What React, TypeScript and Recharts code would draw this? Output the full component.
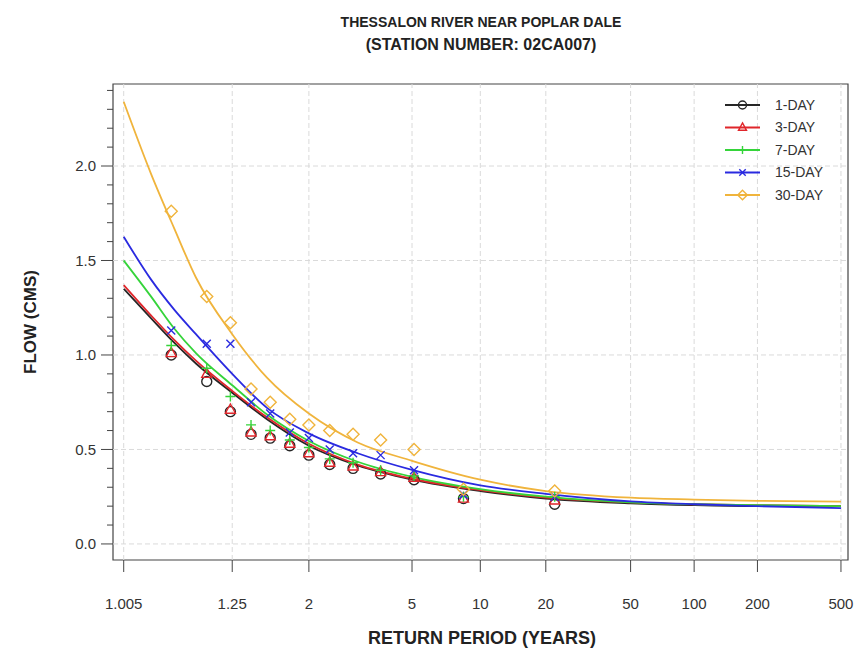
import { ComposedChart, Line, Scatter, XAxis, YAxis, ReferenceLine, ReferenceArea } from 'recharts';

const FONT = '"Liberation Sans", Arial, Helvetica, sans-serif';

// x axis: return period ticks (plotted on a Gumbel reduced-variate scale)
const xTickT = [1.005, 1.25, 2, 5, 10, 20, 50, 100, 200, 500];
const xTickLabels = ['1.005', '1.25', '2', '5', '10', '20', '50', '100', '200', '500'];

// y axis: minor ticks every 0.1, labels on the majors
const yTicks = [0, 0.1, 0.2, 0.3, 0.4, 0.5, 0.6, 0.7, 0.8, 0.9, 1, 1.1, 1.2, 1.3, 1.4, 1.5, 1.6, 1.7, 1.8, 1.9, 2, 2.1, 2.2, 2.3, 2.4];
const yMajor = [0, 0.5, 1, 1.5, 2];

// fitted frequency curves, read at these return periods
const curveT = [1.005, 1.02, 1.05, 1.1, 1.25, 1.5, 2, 3, 5, 10, 20, 50, 100, 200, 500];
const curve1Day = [1.35, 1.195, 1.065, 0.955, 0.8, 0.66, 0.52, 0.415, 0.34, 0.28, 0.24, 0.215, 0.205, 0.2, 0.2];
const curve3Day = [1.37, 1.21, 1.08, 0.97, 0.81, 0.67, 0.53, 0.42, 0.345, 0.285, 0.245, 0.22, 0.21, 0.205, 0.2];
const curve7Day = [1.5, 1.31, 1.14, 1.01, 0.84, 0.685, 0.545, 0.435, 0.355, 0.29, 0.25, 0.22, 0.21, 0.205, 0.2];
const curve15Day = [1.626, 1.4, 1.24, 1.11, 0.9, 0.72, 0.585, 0.48, 0.392, 0.31, 0.265, 0.225, 0.21, 0.2, 0.19];
const curve30Day = [2.34, 1.96, 1.67, 1.41, 1.11, 0.88, 0.69, 0.537, 0.44, 0.34, 0.28, 0.245, 0.235, 0.228, 0.224];

// observed annual minima at their plotting positions
const pointT = [1.045, 1.135, 1.24, 1.37, 1.53, 1.74, 2.0, 2.36, 2.88, 3.7, 5.1, 8.4, 22];
const obs1Day = [1.0, 0.86, 0.7, 0.58, 0.56, 0.52, 0.47, 0.42, 0.4, 0.37, 0.34, 0.24, 0.21];
const obs3Day = [1.01, 0.9, 0.71, 0.59, 0.57, 0.53, 0.48, 0.43, 0.41, 0.38, 0.35, 0.24, 0.23];
const obs7Day = [1.05, 0.93, 0.78, 0.63, 0.6, 0.55, 0.51, 0.45, 0.43, 0.39, 0.36, 0.25, 0.25];
const obs15Day = [1.13, 1.06, 1.06, 0.75, 0.69, 0.59, 0.56, 0.5, 0.48, 0.47, 0.39, 0.26, 0.25];
const obs30Day = [1.76, 1.31, 1.17, 0.82, 0.75, 0.66, 0.63, 0.6, 0.58, 0.55, 0.5, 0.29, 0.28];

// Gumbel reduced variate of the return period (axis transform)
const gumbel = (T: number) => -Math.log(-Math.log(1 - 1 / T));

const X_MIN = -1.786;
const X_MAX = 6.291;
const Y_MIN = -0.085;
const Y_MAX = 2.434;

const PLOT_LEFT = 113;
const PLOT_BOTTOM = 560;

const rows = (ts: number[], vs: number[]) => ts.map((t, i) => ({ g: gumbel(t), v: vs[i] }));

const series = [
    { name: '1-DAY', color: '#262626', marker: 'circle', curve: curve1Day, obs: obs1Day },
    { name: '3-DAY', color: '#e0262b', marker: 'triangle', curve: curve3Day, obs: obs3Day },
    { name: '7-DAY', color: '#35d43a', marker: 'plus', curve: curve7Day, obs: obs7Day },
    { name: '15-DAY', color: '#2a2ae0', marker: 'cross', curve: curve15Day, obs: obs15Day },
    { name: '30-DAY', color: '#f0b43c', marker: 'diamond', curve: curve30Day, obs: obs30Day },
];

const xTicks = xTickT.map(gumbel);

function Marker({ kind, cx, cy, color, s = 5 }: { kind: string; cx: number; cy: number; color: string; s?: number }) {
    const common = { fill: 'none', stroke: color, strokeWidth: 1.4 };
    switch (kind) {
        case 'circle':
            return <circle cx={cx} cy={cy} r={s} {...common} />;
        case 'triangle':
            return <polygon points={`${cx},${cy - s * 1.15} ${cx + s},${cy + s * 0.7} ${cx - s},${cy + s * 0.7}`} {...common} />;
        case 'plus':
            return <path d={`M${cx - s},${cy}H${cx + s}M${cx},${cy - s}V${cy + s}`} {...common} />;
        case 'cross': {
            const d = s * 0.8;
            return <path d={`M${cx - d},${cy - d}L${cx + d},${cy + d}M${cx - d},${cy + d}L${cx + d},${cy - d}`} {...common} />;
        }
        default:
            return <polygon points={`${cx},${cy - s * 1.2} ${cx + s * 1.2},${cy} ${cx},${cy + s * 1.2} ${cx - s * 1.2},${cy}`} {...common} />;
    }
}

function YTick({ y, payload }: any) {
    const v = payload.value as number;
    const major = yMajor.some(m => Math.abs(m - v) < 1e-6);
    return (
        <g>
            <line x1={PLOT_LEFT} x2={PLOT_LEFT - (major ? 12 : 6)} y1={y} y2={y} stroke="#444" strokeWidth={1} />
            {major && (
                <text x={PLOT_LEFT - 17} y={y} dy="0.35em" textAnchor="end" fontSize={15} fontFamily={FONT} fill="#333">
                    {v.toFixed(1)}
                </text>
            )}
        </g>
    );
}

function XTick({ x, payload }: any) {
    const i = xTicks.findIndex(t => Math.abs(t - payload.value) < 1e-6);
    return (
        <g>
            <line x1={x} x2={x} y1={PLOT_BOTTOM} y2={PLOT_BOTTOM + 12} stroke="#444" strokeWidth={1} />
            <text x={x} y={PLOT_BOTTOM + 49} textAnchor="middle" fontSize={15} fontFamily={FONT} fill="#333">
                {xTickLabels[i]}
            </text>
        </g>
    );
}

export default function App() {
    return (
        <div style={{ position: 'absolute', left: 0, top: 0, width: 864, height: 668, background: '#fff' }}>
            <ComposedChart width={864} height={668} margin={{ top: 84, right: 16, bottom: 58, left: 53 }}>
                <XAxis
                    type="number"
                    dataKey="g"
                    domain={[X_MIN, X_MAX]}
                    ticks={xTicks}
                    interval={0}
                    allowDataOverflow
                    axisLine={false}
                    tickLine={false}
                    tick={<XTick />}
                    height={50}
                />
                <YAxis
                    type="number"
                    dataKey="v"
                    domain={[Y_MIN, Y_MAX]}
                    ticks={yTicks}
                    interval={0}
                    allowDataOverflow
                    axisLine={false}
                    tickLine={false}
                    tick={<YTick />}
                    width={60}
                />
                {yMajor.map(v => (
                    <ReferenceLine key={`gy${v}`} y={v} stroke="#dadada" strokeDasharray="5 3" />
                ))}
                {xTicks.map(g => (
                    <ReferenceLine key={`gx${g}`} x={g} stroke="#dadada" strokeDasharray="5 3" />
                ))}
                <ReferenceArea x1={X_MIN} x2={X_MAX} y1={Y_MIN} y2={Y_MAX} fill="none" stroke="#444" strokeWidth={1.2} />
                {series.map(s => (
                    <Line
                        key={`c${s.name}`}
                        data={rows(curveT, s.curve)}
                        dataKey="v"
                        type="monotone"
                        stroke={s.color}
                        strokeWidth={1.8}
                        dot={false}
                        activeDot={false}
                        isAnimationActive={false}
                    />
                ))}
                {series.map(s => (
                    <Scatter
                        key={`p${s.name}`}
                        data={rows(pointT, s.obs)}
                        isAnimationActive={false}
                        shape={(p: any) => <Marker kind={s.marker} cx={p.cx} cy={p.cy} color={s.color} />}
                    />
                ))}
            </ComposedChart>
            <svg width={864} height={668} style={{ position: 'absolute', left: 0, top: 0, pointerEvents: 'none' }}>
                <g fontFamily={FONT} fontWeight="bold" fill="#222" textAnchor="middle">
                    <text x={481} y={27} fontSize={14}>THESSALON RIVER NEAR POPLAR DALE</text>
                    <text x={481} y={50} fontSize={16}>(STATION NUMBER: 02CA007)</text>
                    <text x={482} y={644} fontSize={18}>RETURN PERIOD (YEARS)</text>
                    <text x={0} y={0} fontSize={17} transform="translate(36 322) rotate(-90)">FLOW (CMS)</text>
                </g>
                {series.map((s, i) => {
                    const y = 105 + i * 22.5;
                    return (
                        <g key={`l${s.name}`}>
                            <line x1={725} x2={760} y1={y} y2={y} stroke={s.color} strokeWidth={1.8} />
                            <Marker kind={s.marker} cx={742.5} cy={y} color={s.color} s={4} />
                            <text x={775} y={y} dy="0.35em" fontSize={14} fontFamily={FONT} fill="#333">{s.name}</text>
                        </g>
                    );
                })}
            </svg>
        </div>
    );
}
